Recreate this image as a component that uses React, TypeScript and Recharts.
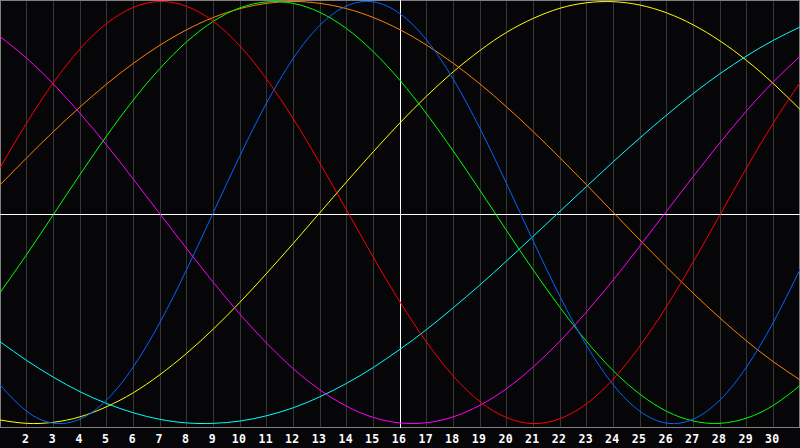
import React from "react";
import {
  LineChart,
  Line,
  XAxis,
  YAxis,
  CartesianGrid,
  ReferenceLine,
  ReferenceArea,
} from "recharts";

const days = [
  1, 2, 3, 4, 5, 6, 7, 8, 9, 10, 11, 12, 13, 14, 15, 16, 17, 18, 19, 20, 21,
  22, 23, 24, 25, 26, 27, 28, 29, 30, 31,
];

const tickDays = [
  2, 3, 4, 5, 6, 7, 8, 9, 10, 11, 12, 13, 14, 15, 16, 17, 18, 19, 20, 21, 22,
  23, 24, 25, 26, 27, 28, 29, 30,
];

const today = 16;
const baseline = -0.008;

// blue
const physical = [
  -0.817, -0.942, -0.998, -0.979, -0.888, -0.731, -0.52, -0.27, 0.0, 0.27,
  0.52, 0.731, 0.888, 0.979, 0.998, 0.942, 0.817, 0.631, 0.398, 0.136, -0.136,
  -0.398, -0.631, -0.817, -0.942, -0.998, -0.979, -0.888, -0.731, -0.52, -0.27,
];

// red
const emotional = [
  0.212, 0.424, 0.615, 0.775, 0.896, 0.972, 1.0, 0.977, 0.906, 0.789, 0.632,
  0.444, 0.233, 0.011, -0.212, -0.424, -0.615, -0.775, -0.896, -0.972, -1.0,
  -0.977, -0.906, -0.789, -0.632, -0.444, -0.233, -0.011, 0.212, 0.424, 0.615,
];

// green
const intellectual = [
  -0.38, -0.199, -0.01, 0.18, 0.363, 0.533, 0.683, 0.809, 0.906, 0.97, 0.998,
  0.991, 0.948, 0.871, 0.762, 0.626, 0.467, 0.291, 0.105, -0.086, -0.273,
  -0.45, -0.611, -0.75, -0.861, -0.942, -0.988, -0.999, -0.974, -0.914, -0.82,
];

// magenta
const intuitive = [
  0.834, 0.731, 0.609, 0.47, 0.319, 0.158, -0.007, -0.171, -0.331, -0.482,
  -0.619, -0.74, -0.841, -0.918, -0.971, -0.997, -0.996, -0.968, -0.913,
  -0.834, -0.731, -0.609, -0.47, -0.319, -0.158, 0.007, 0.171, 0.331, 0.482,
  0.619, 0.74,
];

// yellow
const aesthetic = [
  -0.983, -0.999, -0.994, -0.968, -0.92, -0.854, -0.768, -0.667, -0.552,
  -0.425, -0.288, -0.146, 0.0, 0.146, 0.288, 0.425, 0.552, 0.667, 0.768, 0.854,
  0.92, 0.968, 0.994, 0.999, 0.983, 0.946, 0.889, 0.813, 0.72, 0.611, 0.489,
];

// orange
const awareness = [
  0.131, 0.259, 0.383, 0.5, 0.609, 0.707, 0.793, 0.866, 0.924, 0.966, 0.991,
  1.0, 0.991, 0.966, 0.924, 0.866, 0.793, 0.707, 0.609, 0.5, 0.383, 0.259,
  0.131, 0.0, -0.131, -0.259, -0.383, -0.5, -0.609, -0.707, -0.793,
];

// cyan
const spiritual = [
  -0.612, -0.701, -0.78, -0.849, -0.905, -0.949, -0.98, -0.997, -0.999, -0.988,
  -0.963, -0.925, -0.873, -0.809, -0.734, -0.648, -0.554, -0.451, -0.343,
  -0.229, -0.112, 0.006, 0.124, 0.241, 0.354, 0.462, 0.564, 0.658, 0.742,
  0.816, 0.879,
];

const seriesDefs = [
  { key: "aesthetic", color: "#ffff00", values: aesthetic },
  { key: "spiritual", color: "#00ffff", values: spiritual },
  { key: "awareness", color: "#ff8000", values: awareness },
  { key: "intuitive", color: "#ff00ff", values: intuitive },
  { key: "intellectual", color: "#00ff00", values: intellectual },
  { key: "physical", color: "#0066ff", values: physical },
  { key: "emotional", color: "#ff0000", values: emotional },
];

const data = days.map((day, i) => {
  const row: Record<string, number> = { day };
  seriesDefs.forEach((s) => {
    row[s.key] = s.values[i];
  });
  return row;
});

const DayTick = (props: any) => {
  const { x, payload } = props;
  return (
    <text
      x={x - 1}
      y={443}
      textAnchor="middle"
      fill="#ffffff"
      fontFamily="'DejaVu Sans Mono', monospace"
      fontWeight="bold"
      fontSize={11.5}
      letterSpacing={0.3}
    >
      {payload.value}
    </text>
  );
};

const BorderShape = (props: any) => {
  const { x, y, width, height } = props;
  return (
    <rect
      x={x + 0.5}
      y={y + 0.5}
      width={width - 1}
      height={height - 1}
      fill="none"
      stroke="#808080"
      strokeWidth={1}
      shapeRendering="crispEdges"
    />
  );
};

export default function App() {
  return (
    <div style={{ width: 800, height: 448, background: "#060609" }}>
      <style>{`body{margin:0;background:#060609;}`}</style>
      <LineChart
        width={800}
        height={448}
        data={data}
        margin={{ top: 0, right: 0, bottom: 0, left: 0 }}
        style={{ background: "#060609" }}
      >
        <CartesianGrid
          vertical={true}
          horizontal={false}
          stroke="#363636"
          strokeWidth={1}
          shapeRendering="crispEdges"
        />
        <XAxis
          dataKey="day"
          type="number"
          domain={[1, 31]}
          ticks={tickDays}
          interval={0}
          height={20}
          axisLine={false}
          tickLine={false}
          tick={<DayTick />}
        />
        <YAxis hide domain={[-1.021, 1.007]} type="number" />
        <ReferenceArea
          x1={1}
          x2={31}
          y1={-1.021}
          y2={1.007}
          shape={<BorderShape />}
          ifOverflow="visible"
        />
        <ReferenceLine
          x={today}
          stroke="#ffffff"
          strokeWidth={1}
          shapeRendering="crispEdges"
        />
        <ReferenceLine
          y={baseline}
          stroke="#ffffff"
          strokeWidth={1}
          shapeRendering="crispEdges"
        />
        {seriesDefs.map((s) => (
          <Line
            key={s.key}
            dataKey={s.key}
            type="natural"
            stroke={s.color}
            strokeWidth={1}
            dot={false}
            activeDot={false}
            isAnimationActive={false}
          />
        ))}
      </LineChart>
    </div>
  );
}
